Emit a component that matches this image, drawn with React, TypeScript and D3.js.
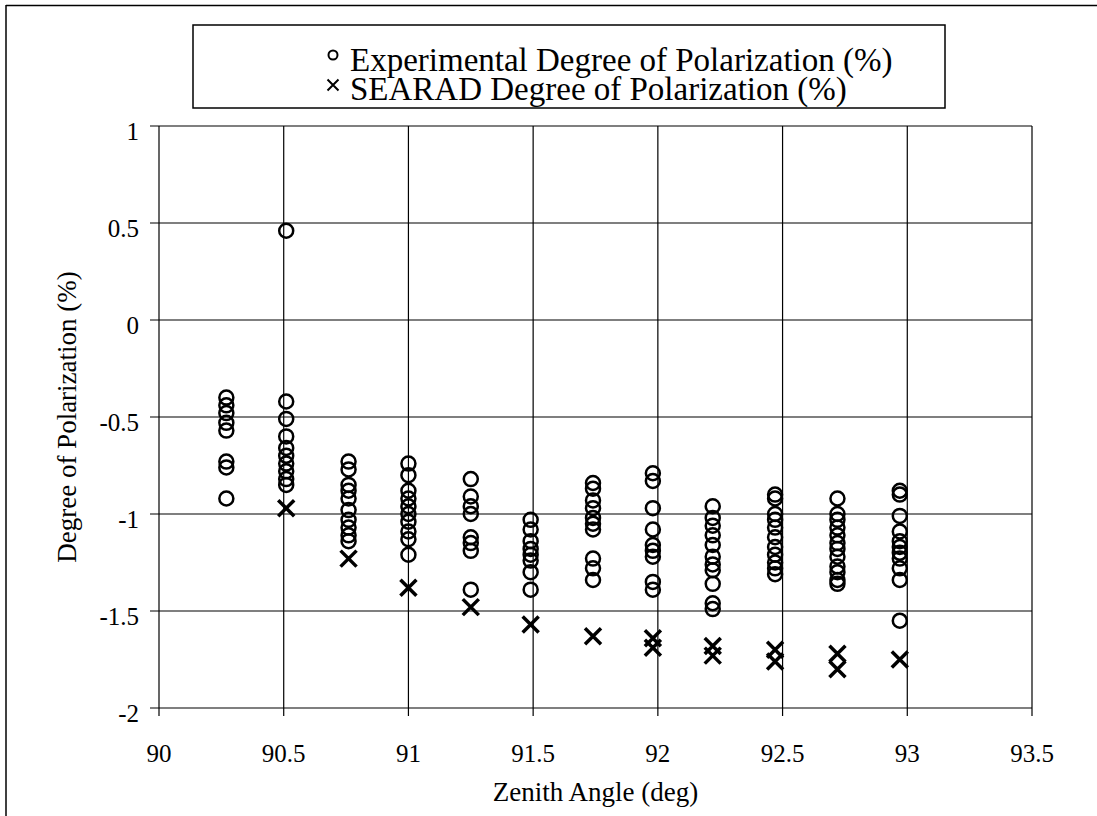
import React from "react";
import * as d3 from "d3";

const angles = [90.27, 90.51, 90.76, 91.0, 91.25, 91.49, 91.74, 91.98, 92.22, 92.47, 92.72, 92.97];

const expValues: number[][] = [
  [-0.40, -0.44, -0.48, -0.53, -0.57, -0.73, -0.76, -0.92],
  [0.46, -0.42, -0.51, -0.60, -0.66, -0.70, -0.74, -0.78, -0.82, -0.85],
  [-0.73, -0.77, -0.85, -0.88, -0.92, -0.98, -1.03, -1.07, -1.11, -1.14],
  [-0.74, -0.80, -0.88, -0.92, -0.96, -1.0, -1.04, -1.09, -1.13, -1.21],
  [-0.82, -0.91, -0.96, -1.0, -1.12, -1.15, -1.19, -1.39],
  [-1.03, -1.08, -1.14, -1.18, -1.21, -1.24, -1.30, -1.39],
  [-0.84, -0.87, -0.93, -0.97, -1.02, -1.05, -1.08, -1.23, -1.28, -1.34],
  [-0.79, -0.83, -0.97, -1.08, -1.16, -1.19, -1.22, -1.35, -1.39],
  [-0.96, -1.02, -1.06, -1.11, -1.16, -1.22, -1.26, -1.29, -1.36, -1.46, -1.49],
  [-0.90, -0.92, -1.0, -1.03, -1.07, -1.12, -1.17, -1.21, -1.25, -1.28, -1.31],
  [-0.92, -1.0, -1.03, -1.07, -1.11, -1.15, -1.18, -1.22, -1.27, -1.30, -1.34, -1.36],
  [-0.88, -0.90, -1.01, -1.09, -1.14, -1.17, -1.20, -1.23, -1.28, -1.34, -1.55],
];

const searadAngles = [90.51, 90.76, 91.0, 91.25, 91.49, 91.74, 91.98, 91.98, 92.22, 92.22, 92.47, 92.47, 92.72, 92.72, 92.97];
const searadValues = [-0.97, -1.23, -1.38, -1.48, -1.57, -1.63, -1.64, -1.69, -1.68, -1.73, -1.70, -1.76, -1.72, -1.80, -1.75];

const xTicks = [90, 90.5, 91, 91.5, 92, 92.5, 93, 93.5];
const yTicks = [1, 0.5, 0, -0.5, -1, -1.5, -2];

const legendLabels = [
  "Experimental Degree of Polarization (%)",
  "SEARAD Degree of Polarization (%)",
];

const FONT = "'Liberation Serif', 'Times New Roman', serif";

export default function App() {
  const W = 1097;
  const H = 816;
  const x = d3.scaleLinear().domain([90, 93.5]).range([159, 1032]);
  const y = d3.scaleLinear().domain([-2, 1]).range([708, 126]);
  const [x0, x1] = x.range();
  const [yb, yt] = y.range();

  const expPts: { a: number; v: number }[] = [];
  angles.forEach((a, i) => expValues[i].forEach((v) => expPts.push({ a, v })));

  const xs = 8;
  const xPath = (cx: number, cy: number, s: number) =>
    `M${cx - s},${cy - s}L${cx + s},${cy + s}M${cx - s},${cy + s}L${cx + s},${cy - s}`;

  return (
    <svg
      width={W}
      height={H}
      style={{ position: "absolute", left: 0, top: 0, background: "#fff" }}
      fontFamily={FONT}
    >
      <rect x={0} y={0} width={W} height={H} fill="#fff" />
      {/* outer frame */}
      <line x1={6} y1={5.5} x2={W} y2={5.5} stroke="#000" strokeWidth={1.5} />
      <line x1={6} y1={5} x2={6} y2={H} stroke="#000" strokeWidth={1.5} />

      {/* legend */}
      <rect x={193} y={25} width={752} height={83} fill="#fff" stroke="#000" strokeWidth={1.5} />
      <circle cx={333} cy={55} r={4.5} fill="none" stroke="#000" strokeWidth={2} />
      <text x={350} y={71} fontSize={33}>{legendLabels[0]}</text>
      <path d={xPath(333, 85, 5.5)} stroke="#000" strokeWidth={2} fill="none" />
      <text x={350} y={100} fontSize={33}>{legendLabels[1]}</text>

      {/* gridlines */}
      {yTicks.map((t) => (
        <line key={"gy" + t} x1={x0 - 9} x2={x1} y1={y(t)} y2={y(t)} stroke="#000" strokeWidth={1.2} />
      ))}
      {xTicks.map((t) => (
        <line key={"gx" + t} x1={x(t)} x2={x(t)} y1={yt} y2={yb + 8} stroke="#000" strokeWidth={1.2} />
      ))}

      {/* tick labels */}
      {yTicks.map((t) => (
        <text key={"ly" + t} x={139} y={y(t) + 14} fontSize={25} textAnchor="end">
          {String(t)}
        </text>
      ))}
      {xTicks.map((t) => (
        <text key={"lx" + t} x={x(t)} y={762} fontSize={25} textAnchor="middle">
          {String(t)}
        </text>
      ))}

      {/* axis titles */}
      <text x={(x0 + x1) / 2} y={801} fontSize={27} textAnchor="middle">
        Zenith Angle (deg)
      </text>
      <text
        transform={`translate(76, ${(yt + yb) / 2}) rotate(-90)`}
        fontSize={27}
        textAnchor="middle"
      >
        Degree of Polarization (%)
      </text>

      {/* experimental points */}
      {expPts.map((p, i) => (
        <circle
          key={"e" + i}
          cx={x(p.a)}
          cy={y(p.v)}
          r={7}
          fill="none"
          stroke="#000"
          strokeWidth={2.5}
        />
      ))}

      {/* SEARAD points */}
      {searadAngles.map((a, i) => (
        <path
          key={"s" + i}
          d={xPath(x(a), y(searadValues[i]), xs)}
          stroke="#000"
          strokeWidth={3.5}
          fill="none"
        />
      ))}
    </svg>
  );
}
